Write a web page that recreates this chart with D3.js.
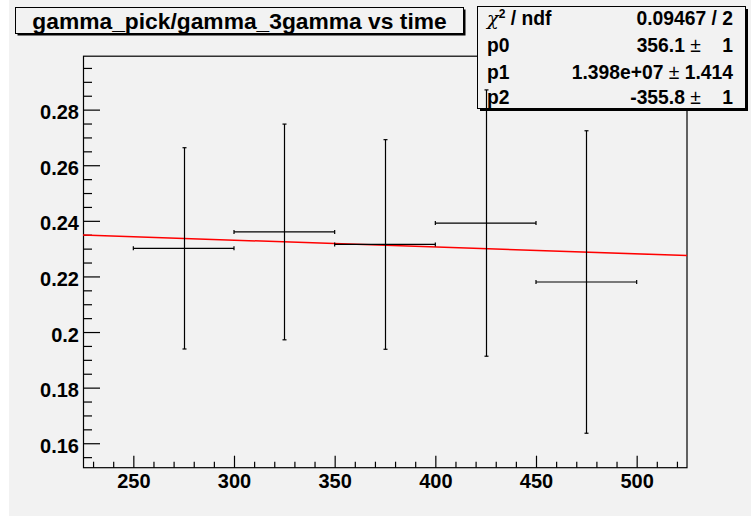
<!DOCTYPE html>
<html>
<head>
<meta charset="utf-8">
<script src="https://cdn.jsdelivr.net/npm/d3@7"></script>
<style>
  html, body { margin: 0; padding: 0; background: #ffffff; }
  svg { display: block; }
  text { font-family: "Liberation Sans", Arial, Helvetica, sans-serif; font-weight: bold; fill: #000; white-space: pre; }
</style>
</head>
<body>
<svg id="chart" width="751" height="516"></svg>
<script>
// Ratio gamma_pick / gamma_3gamma in time bins (bin centre, half width, value, error)
const timeBins   = [275, 325, 375, 425, 475];
const binHalf    = [25, 25, 25, 25, 25];
const ratio      = [0.2301, 0.2360, 0.2315, 0.2392, 0.2180];
const ratioErr   = [0.0362, 0.0388, 0.0377, 0.0479, 0.0544];

// Fitted curve evaluated at the edges of the time range
const fitTime    = [225, 525];
const fitValue   = [0.2349, 0.2275];

// Axis ranges and tick labels
const xRange     = [225, 525];
const yRange     = [0.1512, 0.2994];
const xTicks     = [250, 300, 350, 400, 450, 500];
const yTicks     = [0.16, 0.18, 0.2, 0.22, 0.24, 0.26, 0.28];
const yTickText  = ["0.16", "0.18", "0.2", "0.22", "0.24", "0.26", "0.28"];

// Fit statistics panel
const statNames  = ["p0", "p1", "p2"];
const statValues = ["356.1", "1.398e+07", "-355.8"];
const statErrors = ["   1", "1.414", "   1"];
const chi2Text   = "0.09467 / 2";
const titleText  = "gamma_pick/gamma_3gamma vs time";

const svg = d3.select("#chart");
const bg = "#f2f2f2";

// canvas
svg.append("rect").attr("x", 9).attr("y", 0).attr("width", 742).attr("height", 516).attr("fill", bg);

const frame = { left: 83, right: 687, top: 55.7, bottom: 467.7 };
const x = d3.scaleLinear().domain(xRange).range([frame.left, frame.right]);
const y = d3.scaleLinear().domain(yRange).range([frame.bottom, frame.top]);

// frame box
svg.append("rect")
  .attr("x", frame.left + 0.5).attr("y", frame.top + 0.5)
  .attr("width", frame.right - frame.left - 0.5).attr("height", frame.bottom - frame.top - 0.5)
  .attr("fill", "none").attr("stroke", "#000").attr("stroke-width", 1.2);

// minor ticks
const xMinor = d3.range(230, 525, 10).filter(v => !xTicks.includes(v));
const yMinor = d3.range(0.155, 0.2995, 0.005).map(v => +v.toFixed(3)).filter(v => !yTicks.some(t => Math.abs(t - v) < 1e-9));

const gx = svg.append("g").attr("transform", `translate(0,${frame.bottom})`);
gx.call(d3.axisBottom(x).tickValues(xMinor).tickSizeInner(-6).tickSizeOuter(0).tickFormat(""));
gx.append("g").call(d3.axisBottom(x).tickValues(xTicks).tickSizeInner(-12).tickSizeOuter(0).tickPadding(6).tickFormat(d3.format("d")));
gx.selectAll(".domain").remove();

const gy = svg.append("g").attr("transform", `translate(${frame.left},0)`);
gy.call(d3.axisLeft(y).tickValues(yMinor).tickSizeInner(-9).tickSizeOuter(0).tickFormat(""));
gy.append("g").call(d3.axisLeft(y).tickValues(yTicks).tickSizeInner(-17).tickSizeOuter(0).tickPadding(4)
  .tickFormat((d, i) => yTickText[i]));
gy.selectAll(".domain").remove();

svg.selectAll(".tick line").attr("stroke", "#000").attr("stroke-width", 1.2);
svg.selectAll(".tick text")
  .attr("font-family", '"Liberation Sans", Arial, sans-serif')
  .attr("font-weight", "bold").attr("font-size", 20).attr("fill", "#000");
gy.selectAll(".tick text").attr("dy", "0.45em");

// title box with shadow
const tb = { x: 15.5, y: 7.5, w: 448, h: 26 };
svg.append("rect").attr("x", tb.x + 2).attr("y", tb.y + 2).attr("width", tb.w).attr("height", tb.h).attr("fill", "#000");
svg.append("rect").attr("x", tb.x).attr("y", tb.y).attr("width", tb.w).attr("height", tb.h)
  .attr("fill", bg).attr("stroke", "#000").attr("stroke-width", 1);
svg.append("text").attr("x", tb.x + tb.w / 2).attr("y", 28.5).attr("text-anchor", "middle")
  .attr("font-size", 22.8).text(titleText);

// statistics box with shadow
const sb = { x: 477.5, y: 6.5, w: 268, h: 102 };
svg.append("rect").attr("x", sb.x + 2.5).attr("y", sb.y + 2.5).attr("width", sb.w).attr("height", sb.h).attr("fill", "#000");
svg.append("rect").attr("x", sb.x).attr("y", sb.y).attr("width", sb.w).attr("height", sb.h)
  .attr("fill", bg).attr("stroke", "#000").attr("stroke-width", 1);

const fs = 19.3;
const rowBase = [25, 52, 78.5, 104];
const nameX = 487, valRight = 733;
const chi = svg.append("text").attr("x", nameX).attr("y", rowBase[0]).attr("font-size", fs);
chi.append("tspan").attr("font-weight", "normal").attr("font-family", '"DejaVu Serif", serif').attr("font-style", "italic").text("χ");
chi.append("tspan").attr("font-size", 12).attr("dy", -7).text("2");
chi.append("tspan").attr("dy", 7).text(" / ndf");
svg.append("text").attr("x", valRight).attr("y", rowBase[0]).attr("text-anchor", "end").attr("font-size", fs).text(chi2Text);

statNames.forEach((n, i) => {
  const yb = rowBase[i + 1];
  svg.append("text").attr("x", nameX).attr("y", yb).attr("font-size", fs).text(n);
  const t = svg.append("text").attr("x", valRight).attr("y", yb).attr("text-anchor", "end").attr("font-size", fs);
  t.append("tspan").text(statValues[i] + " ");
  t.append("tspan").attr("font-weight", "normal").text("±");
  t.append("tspan").text(" " + statErrors[i]);
});

// fitted curve
svg.append("line")
  .attr("x1", x(fitTime[0])).attr("y1", y(fitValue[0]))
  .attr("x2", x(fitTime[1])).attr("y2", y(fitValue[1]))
  .attr("stroke", "#ff0000").attr("stroke-width", 1.5);

// data points with error bars
const pts = svg.append("g").attr("stroke", "#000").attr("stroke-width", 1.2).attr("fill", "none");
const cap = 2;
timeBins.forEach((t, i) => {
  const cx = Math.round(x(t)) + 0.5;
  const cy = y(ratio[i]);
  const xl = x(t - binHalf[i]), xr = x(t + binHalf[i]);
  const yt = y(ratio[i] + ratioErr[i]), ybm = y(ratio[i] - ratioErr[i]);
  pts.append("line").attr("x1", xl).attr("x2", xr).attr("y1", cy).attr("y2", cy);
  pts.append("line").attr("x1", cx).attr("x2", cx).attr("y1", yt).attr("y2", ybm);
  pts.append("line").attr("x1", xl).attr("x2", xl).attr("y1", cy - cap).attr("y2", cy + cap);
  pts.append("line").attr("x1", xr).attr("x2", xr).attr("y1", cy - cap).attr("y2", cy + cap);
  pts.append("line").attr("x1", cx - cap).attr("x2", cx + cap).attr("y1", yt).attr("y2", yt);
  pts.append("line").attr("x1", cx - cap).attr("x2", cx + cap).attr("y1", ybm).attr("y2", ybm);
});
</script>
</body>
</html>
